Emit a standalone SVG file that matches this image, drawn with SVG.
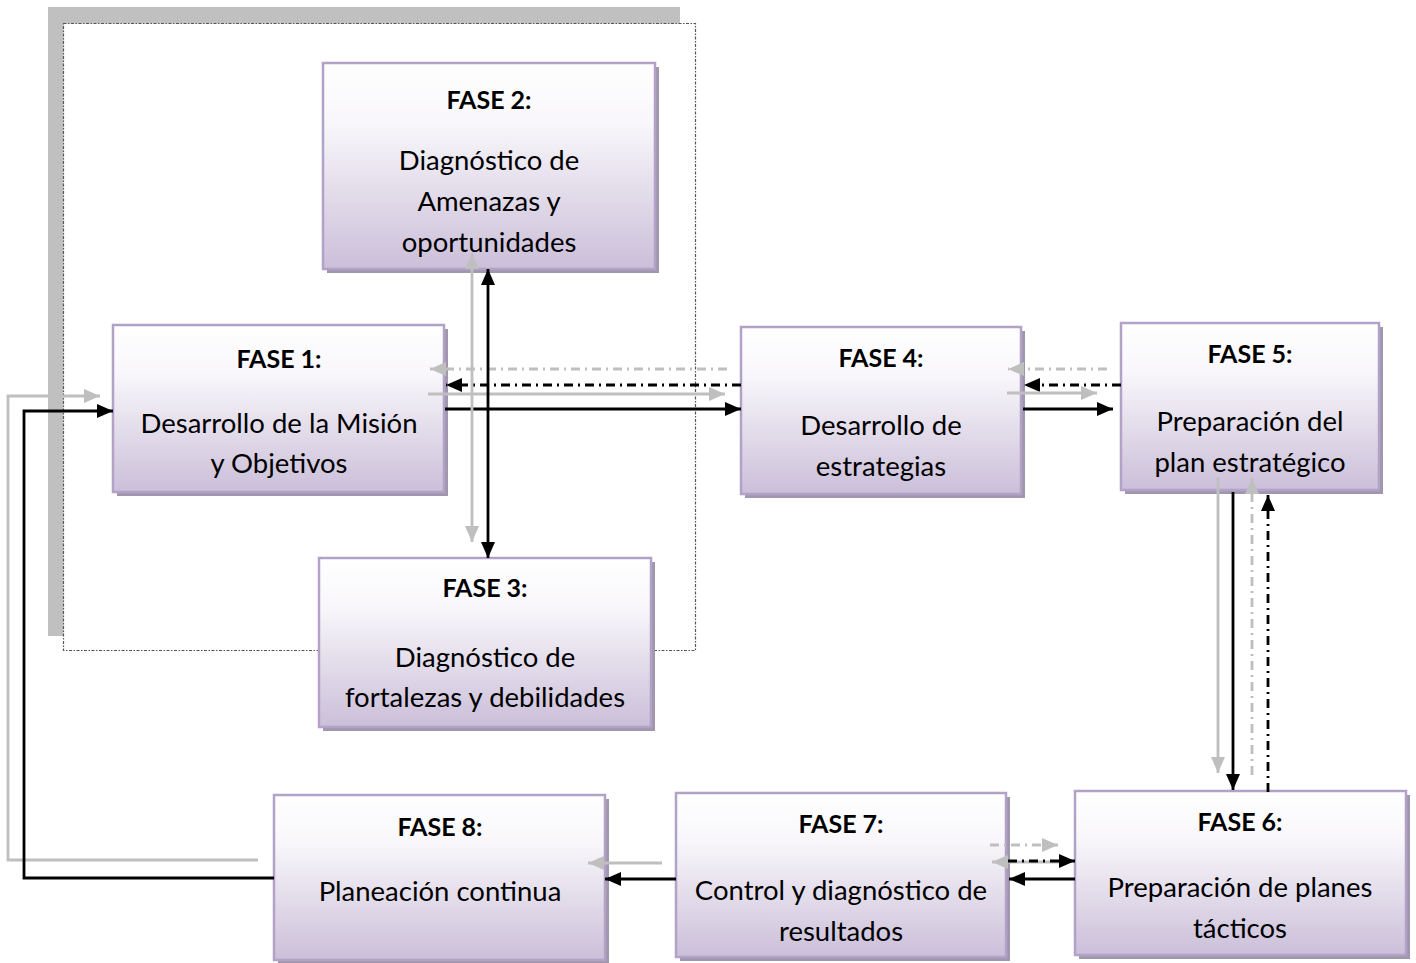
<svg xmlns="http://www.w3.org/2000/svg" width="1416" height="963" viewBox="0 0 1416 963">
  <defs>
    <linearGradient id="boxFill" x1="0" y1="0" x2="0" y2="1">
      <stop offset="0" stop-color="#ffffff"/>
      <stop offset="0.3" stop-color="#f8f6fa"/>
      <stop offset="1" stop-color="#cbbfd9"/>
    </linearGradient>
    <marker id="ahBlack" viewBox="0 0 16 14" refX="16" refY="7" markerWidth="16" markerHeight="14" markerUnits="userSpaceOnUse" orient="auto-start-reverse">
      <path d="M0,0 L16,7 L0,14 Z" fill="#000000"/>
    </marker>
    <marker id="ahGray" viewBox="0 0 16 14" refX="16" refY="7" markerWidth="16" markerHeight="14" markerUnits="userSpaceOnUse" orient="auto-start-reverse">
      <path d="M0,0 L16,7 L0,14 Z" fill="#bfbfbf"/>
    </marker>
  </defs>
  <style>
    .shadow { fill: #a096ae; }
    .box { fill: url(#boxFill); stroke: #b3a2c7; stroke-width: 2.5; }
    .title { font-family: Lato, "Open Sans", sans-serif; font-weight: bold; font-size: 25px; fill: #000; text-anchor: middle; }
    .body { font-family: Lato, "Open Sans", sans-serif; font-size: 27.5px; fill: #000; text-anchor: middle; }
    .k { fill: none; stroke: #000000; stroke-width: 2.8; }
    .g { fill: none; stroke: #bfbfbf; stroke-width: 2.8; }
    .dd { stroke-dasharray: 9 5 2 5; }
    .k.arrow { marker-end: url(#ahBlack); }
    .g.arrow { marker-end: url(#ahGray); }
    .k.both { marker-start: url(#ahBlack); marker-end: url(#ahBlack); }
    .g.both { marker-start: url(#ahGray); marker-end: url(#ahGray); }
  </style>

  <!-- framed group behind phases 1-3 -->
  <g id="frame">
    <rect x="48" y="7" width="632" height="629" fill="#c0c0c0"/>
    <rect x="63.5" y="23.5" width="632" height="627" fill="#ffffff" stroke="#555555" stroke-width="1.2" stroke-dasharray="3 1.5 1.5 1.5"/>
  </g>

  <g id="fase1">
    <rect class="shadow" x="117" y="329" width="331" height="167"/>
    <rect class="box" x="113" y="325" width="331" height="167"/>
    <text class="title" x="279" y="368">FASE 1:</text>
    <text class="body" x="279" y="433">Desarrollo de la Misión</text>
    <text class="body" x="279" y="473">y Objetivos</text>
  </g>

  <g id="fase2">
    <rect class="shadow" x="327" y="67" width="332" height="206"/>
    <rect class="box" x="323" y="63" width="332" height="206"/>
    <text class="title" x="489" y="109">FASE 2:</text>
    <text class="body" x="489" y="170">Diagnóstico de</text>
    <text class="body" x="489" y="211">Amenazas y</text>
    <text class="body" x="489" y="252">oportunidades</text>
  </g>

  <g id="fase3">
    <rect class="shadow" x="323" y="562" width="332" height="169"/>
    <rect class="box" x="319" y="558" width="332" height="169"/>
    <text class="title" x="485" y="597">FASE 3:</text>
    <text class="body" x="485" y="667">Diagnóstico de</text>
    <text class="body" x="485" y="707">fortalezas y debilidades</text>
  </g>

  <g id="fase4">
    <rect class="shadow" x="745" y="331" width="280" height="167"/>
    <rect class="box" x="741" y="327" width="280" height="167"/>
    <text class="title" x="881" y="367">FASE 4:</text>
    <text class="body" x="881" y="435">Desarrollo de</text>
    <text class="body" x="881" y="476">estrategias</text>
  </g>

  <g id="fase5">
    <rect class="shadow" x="1125" y="327" width="258" height="167"/>
    <rect class="box" x="1121" y="323" width="258" height="167"/>
    <text class="title" x="1250" y="363">FASE 5:</text>
    <text class="body" x="1250" y="431">Preparación del</text>
    <text class="body" x="1250" y="472">plan estratégico</text>
  </g>

  <g id="fase6">
    <rect class="shadow" x="1079" y="795" width="331" height="164"/>
    <rect class="box" x="1075" y="791" width="331" height="164"/>
    <text class="title" x="1240" y="831">FASE 6:</text>
    <text class="body" x="1240" y="897">Preparación de planes</text>
    <text class="body" x="1240" y="938">tácticos</text>
  </g>

  <g id="fase7">
    <rect class="shadow" x="680" y="797" width="330" height="164"/>
    <rect class="box" x="676" y="793" width="330" height="164"/>
    <text class="title" x="841" y="833">FASE 7:</text>
    <text class="body" x="841" y="900">Control y diagnóstico de</text>
    <text class="body" x="841" y="941">resultados</text>
  </g>

  <g id="fase8">
    <rect class="shadow" x="278" y="799" width="331" height="165"/>
    <rect class="box" x="274" y="795" width="331" height="165"/>
    <text class="title" x="440" y="836">FASE 8:</text>
    <text class="body" x="440" y="901">Planeación continua</text>
  </g>

  <!-- connectors, drawn over the phase boxes -->
  <g id="connectors">
    <!-- between phase 1 and phase 4 -->
    <path class="g dd arrow" d="M727,369 L430,369"/>
    <path class="k dd arrow" d="M741,385 L446,385"/>
    <path class="g arrow" d="M428,394 L725,394"/>
    <path class="k arrow" d="M445,409 L741,409"/>
    <!-- between phase 2 and phase 3 -->
    <path class="g both" d="M472,253 L472,542"/>
    <path class="k both" d="M488,269 L488,558"/>
    <!-- between phase 4 and phase 5 -->
    <path class="g dd arrow" d="M1107,369 L1008,369"/>
    <path class="k dd arrow" d="M1121,385 L1024,385"/>
    <path class="g arrow" d="M1007,393 L1097,393"/>
    <path class="k arrow" d="M1023,409 L1113,409"/>
    <!-- between phase 5 and phase 6 -->
    <path class="g arrow" d="M1218,477 L1218,773"/>
    <path class="k arrow" d="M1233,492 L1233,790"/>
    <path class="g dd arrow" d="M1252,775 L1252,478"/>
    <path class="k dd arrow" d="M1268,792 L1268,495"/>
    <!-- between phase 6 and phase 7 -->
    <path class="g dd arrow" d="M990,845 L1058,845"/>
    <path class="g arrow" d="M1060,862 L992,862"/>
    <path class="k dd arrow" d="M1008,861 L1075,861"/>
    <path class="k arrow" d="M1075,879 L1009,879"/>
    <!-- between phase 7 and phase 8 -->
    <path class="g arrow" d="M662,863 L588,863"/>
    <path class="k arrow" d="M676,879 L605,879"/>
    <!-- feedback loop from phase 8 back to phase 1 -->
    <path class="g arrow" d="M258,860 L8,860 L8,396 L100,396"/>
    <path class="k arrow" d="M274,878 L24,878 L24,411 L113,411"/>
  </g>
</svg>
